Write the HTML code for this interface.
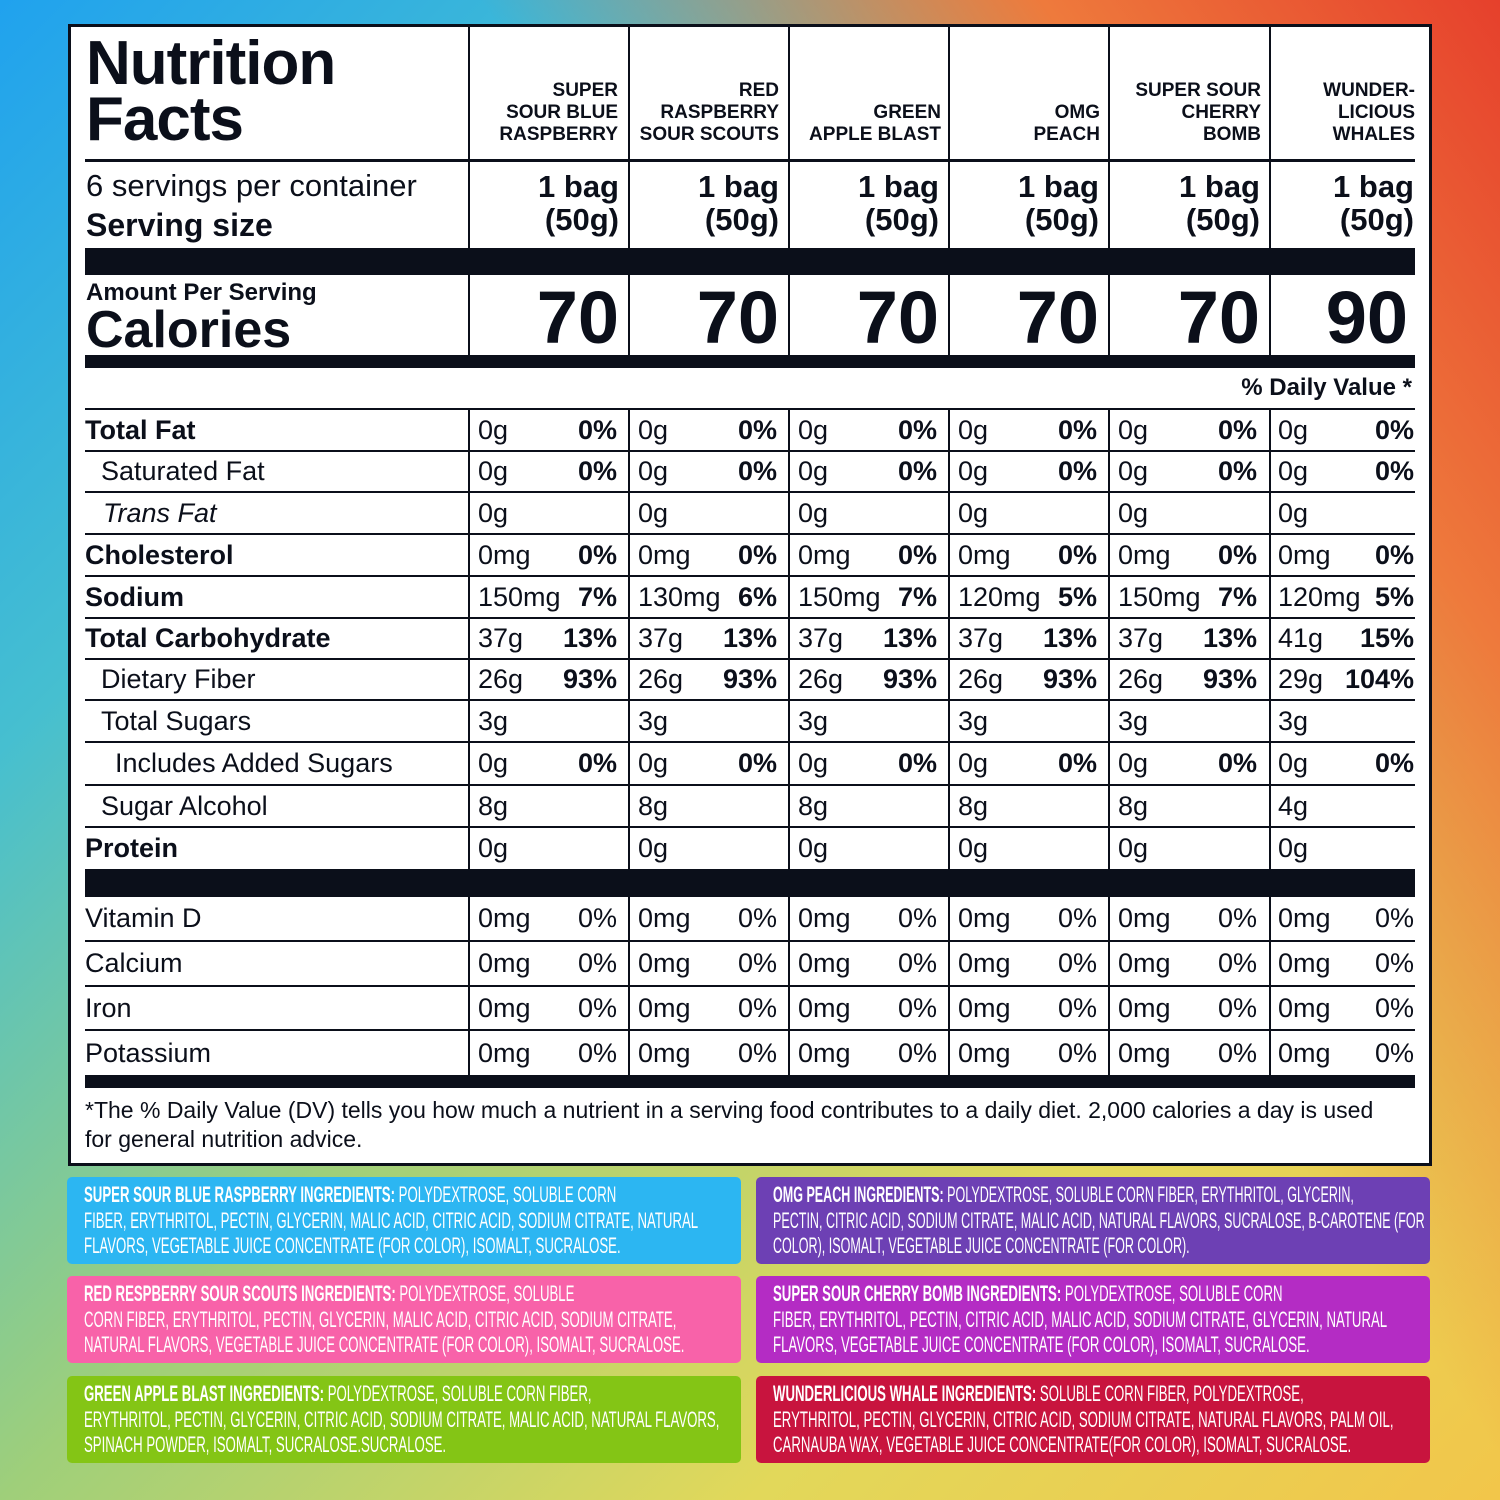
<!DOCTYPE html>
<html><head><meta charset="utf-8"><style>
*{margin:0;padding:0;box-sizing:border-box}
body{width:1500px;height:1500px;position:relative;overflow:hidden;font-family:"Liberation Sans",sans-serif;color:#0b0f1a;
background:linear-gradient(235deg,#e6402c 0%,#ee7a3c 18%,rgba(240,160,80,0) 40%),linear-gradient(135deg,#20a2ee 0%,#46bfd0 25%,#9fcf7a 50%,#e2d85a 75%,#f2c64a 100%);}
.panel{position:absolute;left:68px;top:24px;width:1364px;height:1142px;background:#fff;border:3px solid #0b0f1a}
.a{position:absolute}
.bar{position:absolute;left:85px;width:1330px;background:#0b0f1a}
.vl{position:absolute;width:2px;background:#0b0f1a}
.r{position:absolute;left:85px;width:1330px;border-bottom:2px solid #0b0f1a;display:flex;font-size:27px}
.r .l{width:384px;display:flex;align-items:center}
.r .c{display:flex;justify-content:space-between;align-items:center;padding:0 12px 0 9px;width:160px}
.r .c:last-child{width:145px;padding-right:0}
.b{font-weight:bold}
.hd{position:absolute;top:80px;font-weight:bold;font-size:19px;line-height:22px;text-align:right;width:150px}
.sv{position:absolute;top:170px;font-weight:bold;font-size:31px;line-height:33px;text-align:right;width:150px}
.cal{position:absolute;top:278px;font-weight:bold;font-size:74px;line-height:80px;text-align:right;width:150px}
.ing{position:absolute;width:674px;height:87px;border-radius:5px;color:#fff;overflow:hidden}
.ing div{position:absolute;left:17px;top:5px;width:1050px;white-space:nowrap;transform:scaleX(0.6);transform-origin:left top;font-size:22px;line-height:25.5px}
.ing b{font-size:22px}
</style></head><body>
<div class="panel"></div>
<div class="a b" style="left:86px;top:36px;font-size:62px;line-height:56px;letter-spacing:-1px">Nutrition<br>Facts</div>
<div class="bar" style="top:159px;height:3px"></div>
<div class="a" style="left:86px;top:168px;font-size:31px">6 servings per container</div>
<div class="a b" style="left:86px;top:207px;font-size:32px">Serving size</div>
<div class="bar" style="top:248px;height:27px"></div>
<div class="a b" style="left:86px;top:279px;font-size:24px">Amount Per Serving</div>
<div class="a b" style="left:86px;top:300px;font-size:52px">Calories</div>
<div class="bar" style="top:355px;height:13px"></div>
<div class="a b" style="left:1100px;width:312px;text-align:right;top:374px;font-size:24px">% Daily Value *</div>
<div class="bar" style="top:408px;height:2px"></div>

<div class="hd" style="left:468px">SUPER<br>SOUR BLUE<br>RASPBERRY</div>
<div class="hd" style="left:629px">RED<br>RASPBERRY<br>SOUR SCOUTS</div>
<div class="hd" style="left:791px;top:102px">GREEN<br>APPLE BLAST</div>
<div class="hd" style="left:950px;top:102px">OMG<br>PEACH</div>
<div class="hd" style="left:1111px">SUPER SOUR<br>CHERRY<br>BOMB</div>
<div class="hd" style="left:1265px">WUNDER-<br>LICIOUS<br>WHALES</div>

<div class="sv" style="left:469px">1 bag<br>(50g)</div>
<div class="sv" style="left:629px">1 bag<br>(50g)</div>
<div class="sv" style="left:789px">1 bag<br>(50g)</div>
<div class="sv" style="left:949px">1 bag<br>(50g)</div>
<div class="sv" style="left:1110px">1 bag<br>(50g)</div>
<div class="sv" style="left:1264px">1 bag<br>(50g)</div>

<div class="cal" style="left:469px">70</div>
<div class="cal" style="left:629px">70</div>
<div class="cal" style="left:789px">70</div>
<div class="cal" style="left:949px">70</div>
<div class="cal" style="left:1110px">70</div>
<div class="cal" style="left:1258px">90</div>

<div class="r" style="top:410px;height:42px"><div class="l b">Total Fat</div><div class="c">0g<b>0%</b></div><div class="c">0g<b>0%</b></div><div class="c">0g<b>0%</b></div><div class="c">0g<b>0%</b></div><div class="c">0g<b>0%</b></div><div class="c">0g<b>0%</b></div></div>
<div class="r" style="top:452px;height:41px"><div class="l" style="padding-left:16px">Saturated Fat</div><div class="c">0g<b>0%</b></div><div class="c">0g<b>0%</b></div><div class="c">0g<b>0%</b></div><div class="c">0g<b>0%</b></div><div class="c">0g<b>0%</b></div><div class="c">0g<b>0%</b></div></div>
<div class="r" style="top:493px;height:42px"><div class="l" style="padding-left:18px;font-style:italic">Trans Fat</div><div class="c">0g</div><div class="c">0g</div><div class="c">0g</div><div class="c">0g</div><div class="c">0g</div><div class="c">0g</div></div>
<div class="r" style="top:535px;height:42px"><div class="l b">Cholesterol</div><div class="c">0mg<b>0%</b></div><div class="c">0mg<b>0%</b></div><div class="c">0mg<b>0%</b></div><div class="c">0mg<b>0%</b></div><div class="c">0mg<b>0%</b></div><div class="c">0mg<b>0%</b></div></div>
<div class="r" style="top:577px;height:42px"><div class="l b">Sodium</div><div class="c">150mg<b>7%</b></div><div class="c">130mg<b>6%</b></div><div class="c">150mg<b>7%</b></div><div class="c">120mg<b>5%</b></div><div class="c">150mg<b>7%</b></div><div class="c">120mg<b>5%</b></div></div>
<div class="r" style="top:619px;height:41px"><div class="l b">Total Carbohydrate</div><div class="c">37g<b>13%</b></div><div class="c">37g<b>13%</b></div><div class="c">37g<b>13%</b></div><div class="c">37g<b>13%</b></div><div class="c">37g<b>13%</b></div><div class="c">41g<b>15%</b></div></div>
<div class="r" style="top:660px;height:41px"><div class="l" style="padding-left:16px">Dietary Fiber</div><div class="c">26g<b>93%</b></div><div class="c">26g<b>93%</b></div><div class="c">26g<b>93%</b></div><div class="c">26g<b>93%</b></div><div class="c">26g<b>93%</b></div><div class="c">29g<b>104%</b></div></div>
<div class="r" style="top:701px;height:42px"><div class="l" style="padding-left:16px">Total Sugars</div><div class="c">3g</div><div class="c">3g</div><div class="c">3g</div><div class="c">3g</div><div class="c">3g</div><div class="c">3g</div></div>
<div class="r" style="top:743px;height:43px"><div class="l" style="padding-left:30px">Includes Added Sugars</div><div class="c">0g<b>0%</b></div><div class="c">0g<b>0%</b></div><div class="c">0g<b>0%</b></div><div class="c">0g<b>0%</b></div><div class="c">0g<b>0%</b></div><div class="c">0g<b>0%</b></div></div>
<div class="r" style="top:786px;height:42px"><div class="l" style="padding-left:16px">Sugar Alcohol</div><div class="c">8g</div><div class="c">8g</div><div class="c">8g</div><div class="c">8g</div><div class="c">8g</div><div class="c">4g</div></div>
<div class="r" style="top:828px;height:41px;border-bottom:none"><div class="l b">Protein</div><div class="c">0g</div><div class="c">0g</div><div class="c">0g</div><div class="c">0g</div><div class="c">0g</div><div class="c">0g</div></div>
<div class="bar" style="top:869px;height:28px"></div>
<div class="r" style="top:897px;height:45px"><div class="l">Vitamin D</div><div class="c">0mg<span>0%</span></div><div class="c">0mg<span>0%</span></div><div class="c">0mg<span>0%</span></div><div class="c">0mg<span>0%</span></div><div class="c">0mg<span>0%</span></div><div class="c">0mg<span>0%</span></div></div>
<div class="r" style="top:942px;height:45px"><div class="l">Calcium</div><div class="c">0mg<span>0%</span></div><div class="c">0mg<span>0%</span></div><div class="c">0mg<span>0%</span></div><div class="c">0mg<span>0%</span></div><div class="c">0mg<span>0%</span></div><div class="c">0mg<span>0%</span></div></div>
<div class="r" style="top:987px;height:44px"><div class="l">Iron</div><div class="c">0mg<span>0%</span></div><div class="c">0mg<span>0%</span></div><div class="c">0mg<span>0%</span></div><div class="c">0mg<span>0%</span></div><div class="c">0mg<span>0%</span></div><div class="c">0mg<span>0%</span></div></div>
<div class="r" style="top:1031px;height:44px;border-bottom:none"><div class="l">Potassium</div><div class="c">0mg<span>0%</span></div><div class="c">0mg<span>0%</span></div><div class="c">0mg<span>0%</span></div><div class="c">0mg<span>0%</span></div><div class="c">0mg<span>0%</span></div><div class="c">0mg<span>0%</span></div></div>
<div class="bar" style="top:1075px;height:13px"></div>

<div class="vl" style="left:468px;top:26px;height:329px"></div>
<div class="vl" style="left:628px;top:26px;height:329px"></div>
<div class="vl" style="left:788px;top:26px;height:329px"></div>
<div class="vl" style="left:948px;top:26px;height:329px"></div>
<div class="vl" style="left:1108px;top:26px;height:329px"></div>
<div class="vl" style="left:1269px;top:26px;height:329px"></div>
<div class="vl" style="left:468px;top:410px;height:665px"></div>
<div class="vl" style="left:628px;top:410px;height:665px"></div>
<div class="vl" style="left:788px;top:410px;height:665px"></div>
<div class="vl" style="left:948px;top:410px;height:665px"></div>
<div class="vl" style="left:1108px;top:410px;height:665px"></div>
<div class="vl" style="left:1269px;top:410px;height:665px"></div>

<div class="a" style="left:85px;top:1096px;width:1290px;font-size:23px;line-height:29px">*The % Daily Value (DV) tells you how much a nutrient in a serving food contributes to a daily diet. 2,000 calories a day is used for general nutrition advice.</div>

<div class="ing" style="left:67px;top:1177px;background:#2cb6f2"><div><b>SUPER SOUR BLUE RASPBERRY INGREDIENTS:</b> POLYDEXTROSE, SOLUBLE CORN<br>FIBER, ERYTHRITOL, PECTIN, GLYCERIN, MALIC ACID, CITRIC ACID, SODIUM CITRATE, NATURAL<br>FLAVORS, VEGETABLE JUICE CONCENTRATE (FOR COLOR), ISOMALT, SUCRALOSE.</div></div>
<div class="ing" style="left:67px;top:1276px;background:#f862a9"><div><b>RED RESPBERRY SOUR SCOUTS INGREDIENTS:</b> POLYDEXTROSE, SOLUBLE<br>CORN FIBER, ERYTHRITOL, PECTIN, GLYCERIN, MALIC ACID, CITRIC ACID, SODIUM CITRATE,<br>NATURAL FLAVORS, VEGETABLE JUICE CONCENTRATE (FOR COLOR), ISOMALT, SUCRALOSE.</div></div>
<div class="ing" style="left:67px;top:1376px;background:#84c515"><div><b>GREEN APPLE BLAST INGREDIENTS:</b> POLYDEXTROSE, SOLUBLE CORN FIBER,<br>ERYTHRITOL, PECTIN, GLYCERIN, CITRIC ACID, SODIUM CITRATE, MALIC ACID, NATURAL FLAVORS,<br>SPINACH POWDER, ISOMALT, SUCRALOSE.SUCRALOSE.</div></div>
<div class="ing" style="left:756px;top:1177px;background:#6d40b4"><div style="transform:scaleX(0.57)"><b>OMG PEACH INGREDIENTS:</b> POLYDEXTROSE, SOLUBLE CORN FIBER, ERYTHRITOL, GLYCERIN,<br>PECTIN, CITRIC ACID, SODIUM CITRATE, MALIC ACID, NATURAL FLAVORS, SUCRALOSE, B-CAROTENE (FOR<br>COLOR), ISOMALT, VEGETABLE JUICE CONCENTRATE (FOR COLOR).</div></div>
<div class="ing" style="left:756px;top:1276px;background:#b42cc4"><div><b>SUPER SOUR CHERRY BOMB INGREDIENTS:</b> POLYDEXTROSE, SOLUBLE CORN<br>FIBER, ERYTHRITOL, PECTIN, CITRIC ACID, MALIC ACID, SODIUM CITRATE, GLYCERIN, NATURAL<br>FLAVORS, VEGETABLE JUICE CONCENTRATE (FOR COLOR), ISOMALT, SUCRALOSE.</div></div>
<div class="ing" style="left:756px;top:1376px;background:#c8143e"><div><b>WUNDERLICIOUS WHALE INGREDIENTS:</b> SOLUBLE CORN FIBER, POLYDEXTROSE,<br>ERYTHRITOL, PECTIN, GLYCERIN, CITRIC ACID, SODIUM CITRATE, NATURAL FLAVORS, PALM OIL,<br>CARNAUBA WAX, VEGETABLE JUICE CONCENTRATE(FOR COLOR), ISOMALT, SUCRALOSE.</div></div>
</body></html>
